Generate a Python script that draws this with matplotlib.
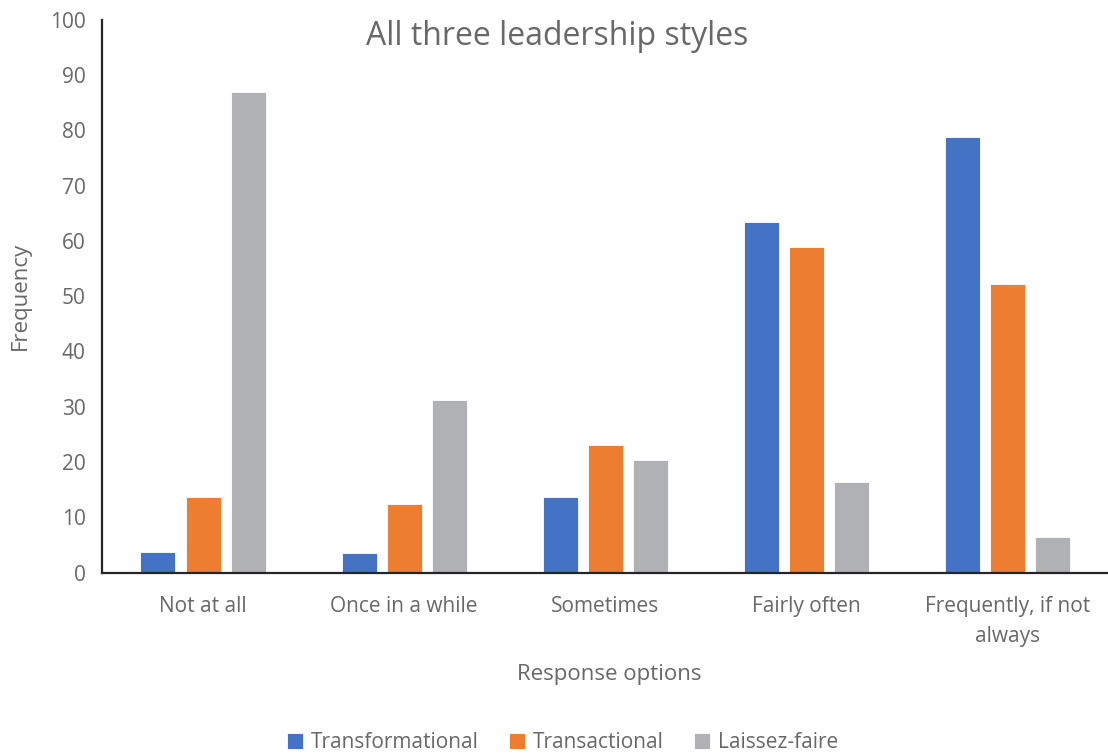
import matplotlib.pyplot as plt
import numpy as np

plt.rcParams["font.family"] = ["Open Sans", "DejaVu Sans"]

categories = ["Not at all", "Once in a while", "Sometimes", "Fairly often",
              "Frequently, if not\nalways"]
series_names = ["Transformational", "Transactional", "Laissez-faire"]
transformational = [3.7, 3.6, 13.7, 63.4, 78.8]
transactional = [13.6, 12.4, 23.0, 58.9, 52.3]
laissez_faire = [86.9, 31.2, 20.3, 16.4, 6.5]
colors = ["#4472C4", "#ED7D31", "#B0B1B4"]

text_color = "#686868"

fig = plt.figure(figsize=(11.08, 7.54), dpi=100)
ax = fig.add_axes([0.0925, 0.2407, 0.9075, 0.7328])

x = np.arange(len(categories))
width = 0.174
step = 0.224
for i, (name, vals) in enumerate(zip(series_names,
                                     [transformational, transactional, laissez_faire])):
    ax.bar(x + (i - 1) * step, vals, width, color=colors[i], label=name,
           edgecolor="white", linewidth=0.6)

ax.set_xlim(-0.5, 4.5)
ax.set_ylim(0, 100)
ax.set_yticks(np.arange(0, 101, 10))
ax.set_xticks(x)
ax.set_xticklabels(categories, linespacing=1.55)
ax.tick_params(axis="both", length=0, labelsize=15, colors=text_color)
ax.tick_params(axis="x", pad=17)
ax.tick_params(axis="y", pad=12)

for side in ["top", "right"]:
    ax.spines[side].set_visible(False)
for side in ["left", "bottom"]:
    ax.spines[side].set_color("#262626")
    ax.spines[side].set_linewidth(1.6)

ax.set_ylabel("Frequency", fontsize=16, color=text_color)
ax.yaxis.set_label_coords(-0.071, 0.5)
ax.set_xlabel("Response options", fontsize=16, color=text_color)
ax.xaxis.set_label_coords(0.504, -0.165)
fig.text(0.503, 0.952, "All three leadership styles", fontsize=23,
         color=text_color, ha="center", va="center")

fig.legend(loc="center", bbox_to_anchor=(0.508, 0.015), ncol=3, frameon=False,
           fontsize=15, labelcolor=text_color, handlelength=0.75,
           handleheight=0.75, handletextpad=0.4, columnspacing=1.45)

fig.savefig("out.png", dpi=100)
